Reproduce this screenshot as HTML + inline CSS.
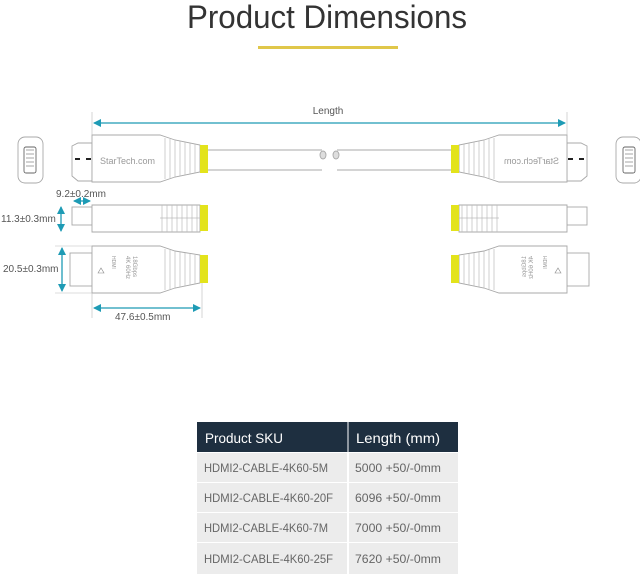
<!DOCTYPE html>
<html><head><meta charset="utf-8"><style>
html,body{margin:0;padding:0;background:#fff;width:640px;height:578px;overflow:hidden;font-family:"Liberation Sans",sans-serif}
</style></head><body>
<svg width="640" height="578" viewBox="0 0 640 578" xmlns="http://www.w3.org/2000/svg">
<defs>
<marker id="ah" markerWidth="8" markerHeight="8" refX="7" refY="4" orient="auto-start-reverse" markerUnits="userSpaceOnUse"><path d="M0,0 L8,4 L0,8 z" fill="#1e9bb5"/></marker>
<g id="conn" fill="#fff" stroke="#a8a8a8" stroke-width="0.9">
  <rect x="18" y="137" width="25" height="46" rx="7"/>
  <rect x="24" y="147" width="12" height="26" rx="2" stroke="#666"/>
  <path d="M26 150 h8 M26 154 h8 M26 158 h8 M26 162 h8 M26 166 h8" stroke="#888" stroke-width="0.7"/>
  <path d="M72 146 L78 143 L92 143 L92 181 L78 181 L72 176 Z"/>
  <rect x="75" y="158" width="5" height="2" fill="#222" stroke="none"/><rect x="86" y="158" width="5" height="2" fill="#222" stroke="none"/>
  <path d="M92 135 L160 135 L175 140 L200 145 L200 172 L175 177 L160 182 L92 182 Z"/>
  <path d="M165 138 v41 M170 139 v39 M175 140 v37 M180 141 v35 M185 142 v33 M190 143 v31 M195 144 v29" stroke="#bbb" stroke-width="0.7"/>
  <text x="100" y="164" font-size="9" fill="#999" stroke="none">StarTech.com</text>
  <rect x="200" y="145" width="8" height="28" fill="#e3e31c" stroke="none"/>
  <path d="M208 150 L322 150 M208 170 L322 170" />
  <ellipse cx="323" cy="155" rx="3" ry="4" fill="#ddd"/>
  <rect x="72" y="207" width="20" height="18"/>
  <path d="M92 205 L200 205 L200 232 L92 232 Z"/>
  <path d="M162 205 v27 M167 205 v27 M172 205 v27 M177 205 v27 M182 205 v27 M187 205 v27 M192 205 v27 M197 205 v27" stroke="#bbb" stroke-width="0.7"/>
  <path d="M160 218 h40" stroke="#bbb" stroke-width="0.7"/>
  <rect x="200" y="205" width="8" height="26" fill="#e3e31c" stroke="none"/>
  <rect x="70" y="253" width="22" height="33"/>
  <path d="M92 246 L160 246 L175 251 L200 255 L200 283 L175 288 L160 293 L92 293 Z"/>
  <path d="M165 249 v41 M170 250 v39 M175 251 v37 M180 252 v35 M185 253 v33 M190 254 v31 M195 255 v29" stroke="#bbb" stroke-width="0.7"/>
  <path d="M98 273 l3 -5 l3 5 z" stroke="#888" stroke-width="0.6"/>
  <text transform="translate(112,256) rotate(90)" font-size="5" fill="#999" stroke="none">HDMI</text>
  <text transform="translate(126,256) rotate(90)" font-size="6" fill="#999" stroke="none">4K 60Hz</text>
  <text transform="translate(133,256) rotate(90)" font-size="6" fill="#999" stroke="none">18Gbps</text>
  <rect x="200" y="255" width="8" height="28" fill="#e3e31c" stroke="none"/>
</g>
</defs>
<text x="327" y="28" text-anchor="middle" font-size="32" fill="#333" textLength="280" lengthAdjust="spacingAndGlyphs">Product Dimensions</text>
<rect x="258" y="46" width="140" height="3" fill="#e0c74a"/>

<use href="#conn"/>
<use href="#conn" transform="translate(659,0) scale(-1,1)"/>

<g stroke="#1e9bb5" stroke-width="1.3" fill="none">
<line x1="94" y1="123" x2="565" y2="123" marker-start="url(#ah)" marker-end="url(#ah)"/>
<line x1="74" y1="201" x2="90" y2="201" marker-start="url(#ah)" marker-end="url(#ah)"/>
<line x1="61" y1="207" x2="61" y2="231" marker-start="url(#ah)" marker-end="url(#ah)"/>
<line x1="62" y1="248" x2="62" y2="291" marker-start="url(#ah)" marker-end="url(#ah)"/>
<line x1="94" y1="308" x2="200" y2="308" marker-start="url(#ah)" marker-end="url(#ah)"/>
</g>
<g stroke="#bbb" stroke-width="0.6">
<line x1="92" y1="112" x2="92" y2="135"/><line x1="567" y1="112" x2="567" y2="135"/>
<line x1="92" y1="293" x2="92" y2="318"/><line x1="202" y1="283" x2="202" y2="318"/>
<line x1="55" y1="246" x2="92" y2="246"/><line x1="55" y1="293" x2="92" y2="293"/>
</g>
<g font-size="10" fill="#555">
<text x="328" y="114" text-anchor="middle">Length</text>
<text x="56" y="197">9.2±0.2mm</text>
<text x="1" y="222">11.3±0.3mm</text>
<text x="3" y="272">20.5±0.3mm</text>
<text x="115" y="320">47.6±0.5mm</text>
</g>

<rect x="197" y="422" width="261" height="30" fill="#1e2f40"/>
<line x1="348" y1="422" x2="348" y2="452" stroke="#fff" stroke-width="1"/>
<text x="205" y="443" font-size="14" fill="#fff" textLength="78" lengthAdjust="spacingAndGlyphs">Product SKU</text>
<text x="356" y="443" font-size="14" fill="#fff" textLength="84" lengthAdjust="spacingAndGlyphs">Length (mm)</text>
<g fill="#ececec">
<rect x="197" y="453" width="150" height="29"/><rect x="349" y="453" width="109" height="29"/>
<rect x="197" y="483" width="150" height="29"/><rect x="349" y="483" width="109" height="29"/>
<rect x="197" y="513" width="150" height="29"/><rect x="349" y="513" width="109" height="29"/>
<rect x="197" y="543" width="150" height="31"/><rect x="349" y="543" width="109" height="31"/>
</g>
<g font-size="12" fill="#666" lengthAdjust="spacingAndGlyphs">
<text x="204" y="472" textLength="124" lengthAdjust="spacingAndGlyphs">HDMI2-CABLE-4K60-5M</text><text x="355" y="472" textLength="86" lengthAdjust="spacingAndGlyphs">5000 +50/-0mm</text>
<text x="204" y="502" textLength="129" lengthAdjust="spacingAndGlyphs">HDMI2-CABLE-4K60-20F</text><text x="355" y="502" textLength="86" lengthAdjust="spacingAndGlyphs">6096 +50/-0mm</text>
<text x="204" y="532" textLength="124" lengthAdjust="spacingAndGlyphs">HDMI2-CABLE-4K60-7M</text><text x="355" y="532" textLength="86" lengthAdjust="spacingAndGlyphs">7000 +50/-0mm</text>
<text x="204" y="563" textLength="129" lengthAdjust="spacingAndGlyphs">HDMI2-CABLE-4K60-25F</text><text x="355" y="563" textLength="86" lengthAdjust="spacingAndGlyphs">7620 +50/-0mm</text>
</g>
</svg>
</body></html>
